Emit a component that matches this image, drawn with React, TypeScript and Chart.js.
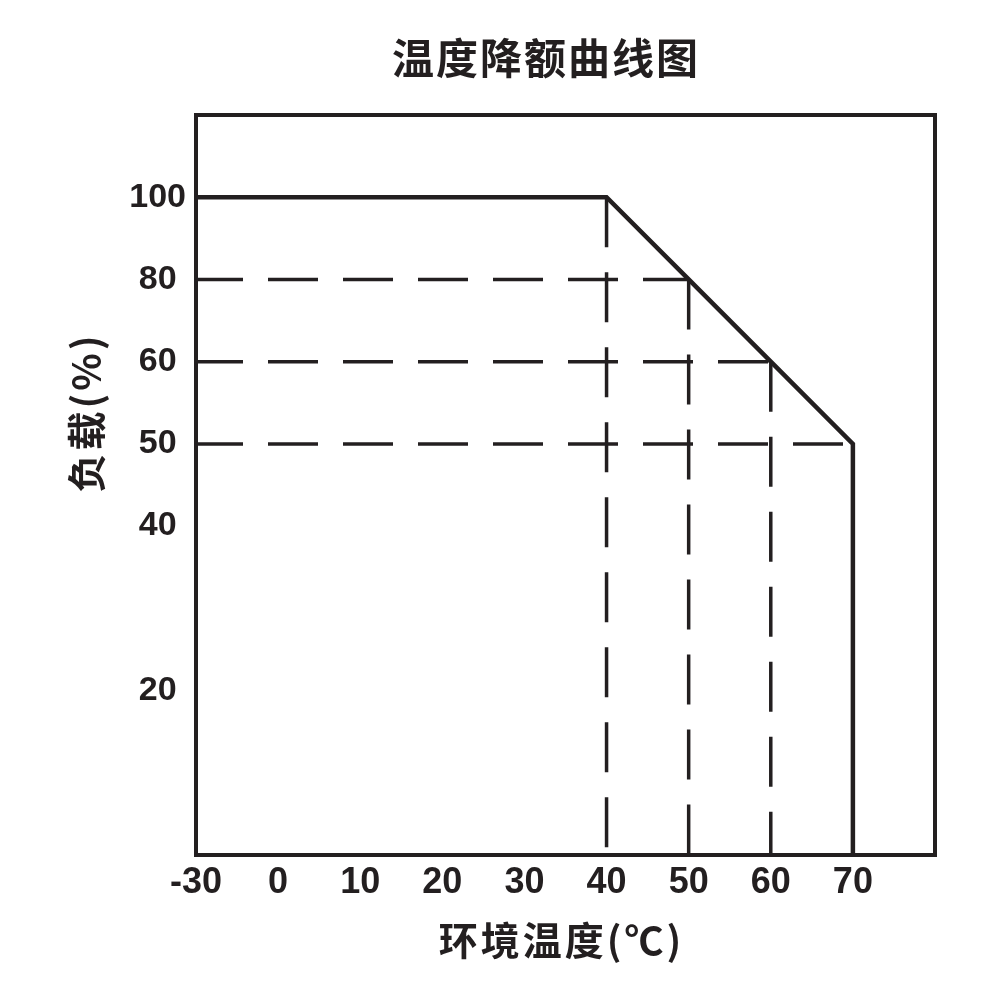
import { useEffect, useRef } from 'react';
import { Chart, registerables } from 'chart.js';

Chart.register(...registerables);

// Axis breakpoints (each consecutive pair occupies one equal step on the axis)
const tempScale = [-30, 0, 10, 20, 30, 40, 50, 60, 70, 80];
const loadScale = [0, 10, 20, 30, 40, 50, 60, 80, 100, 120];

// Tick labels shown
const tempTicks = [-30, 0, 10, 20, 30, 40, 50, 60, 70];
const loadTicks = [20, 40, 50, 60, 80, 100];

// Derating curve
const curveTemp = [-30, 40, 50, 60, 70, 70];
const curveLoad = [100, 100, 80, 60, 50, 0];

// Horizontal guides: load level and temperature where they meet the curve
const hGuideLoad = [80, 60, 50];
const hGuideTemp = [50, 60, 70];

// Vertical guides: temperature and load where they start on the curve
const vGuideTemp = [40, 50, 60];
const vGuideLoad = [100, 80, 60];

const titleText = '温度降额曲线图';
const xTitleText = '环境温度(℃)';
const yTitleText = '负载(%)';

const INK = '#231f20';

function pos(v: number, breaks: number[]): number {
  for (let i = 0; i < breaks.length - 1; i++) {
    if (v >= breaks[i] && v <= breaks[i + 1]) {
      return i + (v - breaks[i]) / (breaks[i + 1] - breaks[i]);
    }
  }
  return v < breaks[0] ? 0 : breaks.length - 1;
}

const pt = (t: number, l: number) => ({ x: pos(t, tempScale), y: pos(l, loadScale) });

const framePlugin = {
  id: 'frameAndTitles',
  afterDatasetsDraw(chart: any) {
    const { ctx, chartArea: a } = chart;
    ctx.save();
    ctx.strokeStyle = INK;
    ctx.lineWidth = 4;
    ctx.strokeRect(a.left, a.top, a.right - a.left, a.bottom - a.top);
    ctx.restore();
  },
  afterDraw(chart: any) {
    const { ctx } = chart;
    ctx.save();
    ctx.fillStyle = INK;
    ctx.textAlign = 'center';
    ctx.textBaseline = 'middle';
    ctx.font = 'bold 42px "Noto Sans CJK SC"';
    (ctx as any).letterSpacing = '2px';
    ctx.fillText(titleText, 545 + 1, 58);
    ctx.font = 'bold 39px "Noto Sans CJK SC"';
    (ctx as any).letterSpacing = '3px';
    ctx.fillText(xTitleText, 560 + 1.5, 940);
    ctx.translate(86, 414);
    ctx.rotate(-Math.PI / 2);
    ctx.fillText(yTitleText, 1.5, 0);
    ctx.restore();
  },
};

export default function App() {
  const ref = useRef<HTMLCanvasElement>(null);

  useEffect(() => {
    document.body.style.margin = '0';
    const datasets: any[] = [];
    hGuideLoad.forEach((l, i) => {
      datasets.push({
        data: [pt(tempScale[0], l), pt(hGuideTemp[i], l)],
        borderColor: INK,
        borderWidth: 3.5,
        borderDash: [50, 25],
        borderDashOffset: 3,
        pointRadius: 0,
        fill: false,
        clip: false,
      });
    });
    vGuideTemp.forEach((t, i) => {
      datasets.push({
        data: [pt(t, vGuideLoad[i]), pt(t, loadScale[0])],
        borderColor: INK,
        borderWidth: 3.5,
        borderDash: [50, 25],
        pointRadius: 0,
        fill: false,
        clip: false,
      });
    });
    datasets.push({
      data: curveTemp.map((t, i) => pt(t, curveLoad[i])),
      borderColor: INK,
      borderWidth: 4.5,
      borderJoinStyle: 'miter',
      pointRadius: 0,
      tension: 0,
      fill: false,
      clip: false,
    });

    const tickFont = (size: number) => ({ family: '"Liberation Sans", Arial, sans-serif', size, weight: 'bold' as const });

    const chart = new Chart(ref.current!, {
      type: 'line',
      data: { datasets },
      options: {
        responsive: false,
        animation: false,
        devicePixelRatio: 1,
        layout: { padding: { top: 115, right: 65, left: 0, bottom: 0 } },
        plugins: {
          legend: { display: false },
          title: { display: false },
          tooltip: { enabled: false },
        },
        scales: {
          x: {
            type: 'linear',
            min: 0,
            max: tempScale.length - 1,
            grid: { display: false, drawTicks: false },
            border: { display: false },
            afterBuildTicks: (s: any) => {
              s.ticks = tempTicks.map((v) => ({ value: pos(v, tempScale) }));
            },
            afterFit: (s: any) => {
              s.height = 145;
            },
            ticks: {
              callback: (_v: any, i: number) => String(tempTicks[i]),
              font: tickFont(36),
              color: INK,
              padding: 6,
              maxRotation: 0,
              autoSkip: false,
            },
          },
          y: {
            type: 'linear',
            min: 0,
            max: loadScale.length - 1,
            grid: { display: false, drawTicks: false },
            border: { display: false },
            afterBuildTicks: (s: any) => {
              s.ticks = loadTicks.map((v) => ({ value: pos(v, loadScale) }));
            },
            afterFit: (s: any) => {
              s.width = 196;
            },
            ticks: {
              callback: (_v: any, i: number) => String(loadTicks[i]),
              font: tickFont(34),
              color: INK,
              padding: 10,
              crossAlign: 'center',
              autoSkip: false,
            },
          },
        },
      },
      plugins: [framePlugin],
    });
    return () => chart.destroy();
  }, []);

  return (
    <div style={{ width: 1000, height: 1000 }}>
      <canvas ref={ref} width={1000} height={1000} />
    </div>
  );
}
